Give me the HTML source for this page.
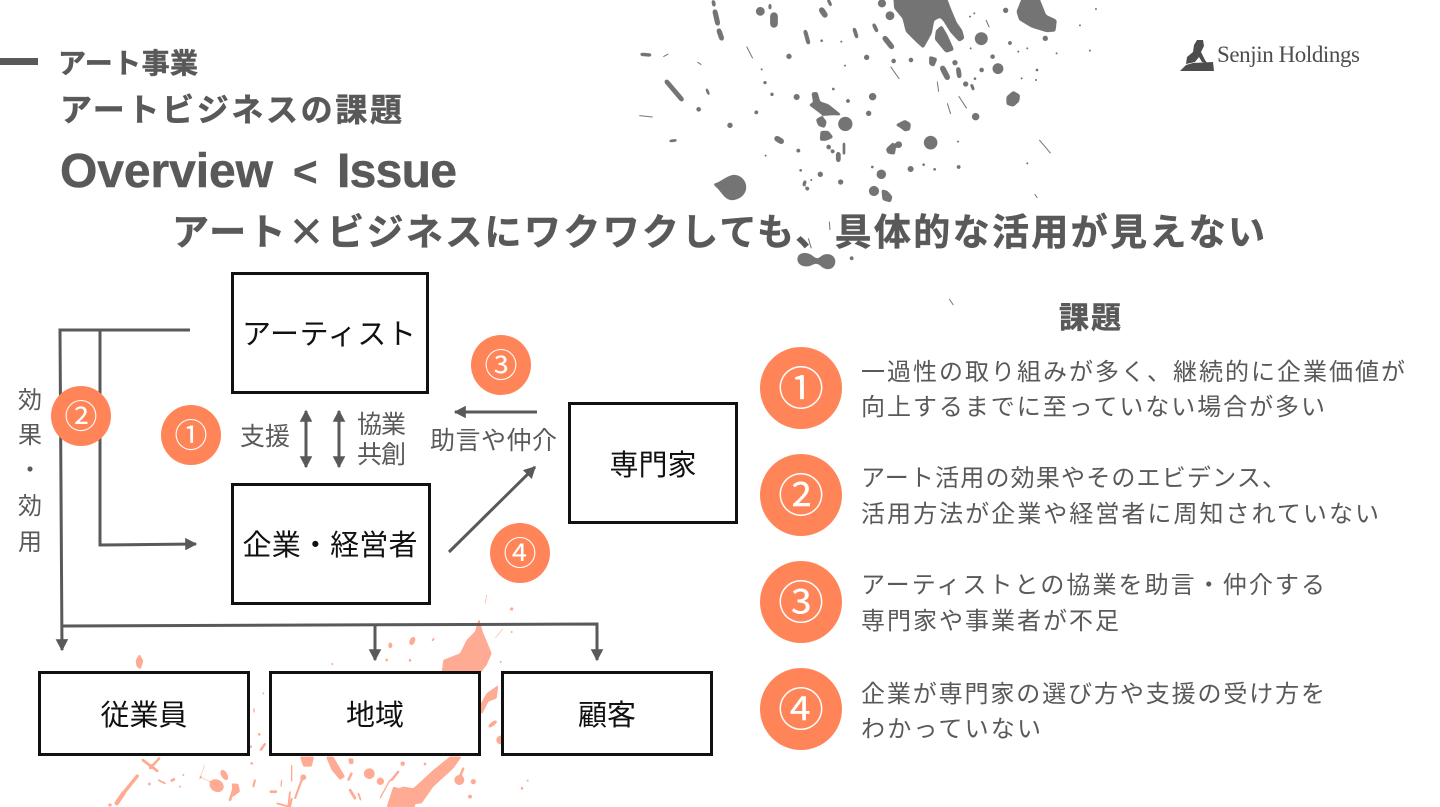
<!DOCTYPE html>
<html lang="ja"><head><meta charset="utf-8"><title>Overview &lt; Issue</title>
<style>
html,body{margin:0;padding:0;background:#fff}
svg{display:block;position:absolute;left:0;top:0}
text{font-family:"Liberation Sans","Noto Sans CJK JP",sans-serif}
</style></head><body>
<svg width="1440" height="807" viewBox="0 0 1440 807" xmlns="http://www.w3.org/2000/svg">
<defs>
<marker id="a" markerWidth="5" markerHeight="5" refX="3.6" refY="2.5" orient="auto-start-reverse" markerUnits="strokeWidth"><path d="M0 .4L4 2.5 0 4.6z" fill="#595959"/></marker>
<filter id="g" x="-5%" y="-5%" width="110%" height="110%" color-interpolation-filters="sRGB"><feGaussianBlur stdDeviation="2.2"/><feComponentTransfer><feFuncA type="linear" slope="5" intercept="-1.8"/></feComponentTransfer></filter>
<filter id="h" x="-5%" y="-5%" width="110%" height="110%" color-interpolation-filters="sRGB"><feGaussianBlur stdDeviation="3.5"/><feComponentTransfer><feFuncA type="linear" slope="5" intercept="-1.6"/></feComponentTransfer></filter>
</defs>
<rect width="1440" height="807" fill="#fff"/>

<!-- gray splatter -->
<g transform="translate(620 0) scale(.3333)" fill="#747474">
<g filter="url(#h)">
<g transform="translate(720 0)">
<path d="M100 -20H255L245 50 222 62 215 100 190 145 168 125 138 95 128 55 103 25z"/>
<path d="M228 92L245 76 262 105 282 150 258 158 225 118z"/>
<path d="M240 -20H255L272 25 290 68 306 90 313 115 298 125 272 97 250 62 232 45z"/>
<circle cx="66" cy="10" r="12"/><circle cx="90" cy="47" r="13"/>
</g>
<path d="M1212 -20H1252L1278 45 1310 60 1306 94 1280 96 1235 82 1198 60 1190 35z"/>
<path d="M278 552C300 550 315 530 340 525 365 525 380 545 378 565 375 590 350 600 335 600 310 598 305 570 278 552z"/>
<path d="M1160 290L1180 273 1200 285 1197 305 1180 320 1160 314z"/>
<path d="M575 278L592 276 600 305 625 313 650 333 666 346 640 345 610 347 590 332 566 314 580 308z"/>
<path d="M588 358L606 348 620 365 614 384 595 377zM602 393L625 393 640 412 618 422 600 422zM928 168L952 175 942 200 928 194zM826 375L855 360 872 370 870 390 855 394 840 382zM798 447L820 426 827 445 824 464 803 460z"/>
<path d="M533 775C535 755 565 755 580 770 590 778 595 778 605 768 625 755 650 768 645 790 640 812 615 812 600 795 590 788 585 790 575 795 555 805 530 795 533 775z"/>
<path d="M785 568L802 573 817 590 812 607 788 600z"/>
<g stroke="#747474" stroke-linecap="round" fill="none">
<path d="M280 5L282 15" stroke-width="10"/><path d="M285 35L293 70" stroke-width="14"/><path d="M297 92L305 115" stroke-width="14"/><path d="M462 48V72" stroke-width="22"/><path d="M605 30L615 45" stroke-width="16"/><path d="M556 95L565 128" stroke-width="11"/><path d="M703 88L710 110" stroke-width="10"/><path d="M762 75L770 92" stroke-width="10"/><path d="M795 115L815 140" stroke-width="15"/><path d="M968 205L982 232" stroke-width="16"/><path d="M1015 208L1018 228" stroke-width="13"/><path d="M140 245L185 298" stroke-width="13"/><path d="M65 163L90 165" stroke-width="9"/><path d="M150 423L168 421" stroke-width="7"/><path d="M655 462V480" stroke-width="13"/><path d="M471 416L484 424" stroke-width="16"/><path d="M1055 255L1060 268" stroke-width="8"/><path d="M450 15V25" stroke-width="8"/><path d="M625 0L632 15" stroke-width="8"/><path d="M260 268L266 282" stroke-width="7"/><path d="M555 545L552 555" stroke-width="9"/><path d="M672 430V462" stroke-width="7"/>
</g>
<circle cx="421" cy="34" r="13"/><circle cx="1084" cy="116" r="19"/><circle cx="1134" cy="206" r="16"/><circle cx="676" cy="372" r="21"/><circle cx="932" cy="428" r="20"/><circle cx="784" cy="523" r="14"/><circle cx="762" cy="573" r="15"/><circle cx="758" cy="290" r="11"/><circle cx="530" cy="291" r="9"/><circle cx="746" cy="340" r="8"/><circle cx="836" cy="434" r="10"/><circle cx="872" cy="507" r="9"/><circle cx="1067" cy="350" r="11"/><circle cx="330" cy="376" r="8"/><circle cx="601" cy="523" r="8"/><circle cx="662" cy="546" r="8"/><circle cx="507" cy="169" r="8"/><circle cx="740" cy="172" r="8"/><circle cx="1005" cy="188" r="8"/><circle cx="1037" cy="252" r="8"/><circle cx="1085" cy="210" r="7"/><circle cx="1118" cy="170" r="7"/><circle cx="1157" cy="31" r="8"/><circle cx="1276" cy="115" r="8"/><circle cx="821" cy="183" r="7"/><circle cx="873" cy="180" r="7"/><circle cx="236" cy="328" r="7"/><circle cx="409" cy="337" r="6"/><circle cx="684" cy="303" r="6"/><circle cx="535" cy="452" r="6"/><circle cx="626" cy="441" r="7"/><circle cx="638" cy="454" r="6"/><circle cx="1016" cy="501" r="6"/><circle cx="562" cy="566" r="6"/><circle cx="695" cy="775" r="6"/><circle cx="1170" cy="129" r="6"/>
</g>
<circle cx="944" cy="508" r="4"/><circle cx="911" cy="494" r="4"/><circle cx="757" cy="501" r="4"/><circle cx="542" cy="511" r="4"/><circle cx="574" cy="540" r="3"/><circle cx="456" cy="283" r="5"/><circle cx="435" cy="248" r="5"/><circle cx="425" cy="208" r="3"/><circle cx="1065" cy="236" r="4"/><circle cx="1251" cy="210" r="4"/><circle cx="1222" cy="490" r="3"/><circle cx="1014" cy="425" r="3"/><circle cx="437" cy="467" r="3"/><circle cx="640" cy="267" r="4"/><circle cx="605" cy="122" r="4"/><circle cx="664" cy="125" r="3"/><circle cx="675" cy="197" r="3"/><circle cx="1380" cy="76" r="3"/><circle cx="1410" cy="152" r="3"/><circle cx="1428" cy="27" r="3"/><circle cx="1195" cy="155" r="3"/><circle cx="1222" cy="145" r="3"/><circle cx="1310" cy="160" r="3"/><circle cx="1050" cy="50" r="3"/><circle cx="1063" cy="40" r="3"/><circle cx="1052" cy="145" r="3"/><circle cx="1205" cy="235" r="3"/><circle cx="1248" cy="240" r="3"/>
<g stroke="#747474" stroke-width="3" fill="none"><path d="M812 200L838 237M1016 288L1040 325M982 310L992 342M1258 420L1292 460M952 245L956 275M380 140L398 175M130 170L145 162M232 186L244 194M1098 60L1108 82M565 715L574 745M628 665L630 690M1244 582L1252 594M988 897L1000 915M58 347L98 351"/></g>
</g>

<!-- pink splatter -->
<g transform="translate(290 590) scale(.3333)" fill="#ffab93">
<g filter="url(#g)">
<path d="M567 85L578 125 605 190 590 225 570 250H455L460 210 510 190 530 150 555 125z"/>
<path d="M625 285L620 325 595 335 575 375 570 345 590 310z"/>
<ellipse cx="608" cy="402" rx="16" ry="6" transform="rotate(-38 608 402)"/><circle cx="632" cy="450" r="13"/>
<ellipse cx="367" cy="153" rx="8" ry="13" transform="rotate(25 367 153)"/><ellipse cx="301" cy="166" rx="6" ry="9"/>
<path d="M30 500H72L65 530 40 530zM108 500H130L165 560 150 570 125 540zM175 505H190L190 522 178 522zM480 500H515L490 535 430 590 395 640 300 651 315 600 340 590 370 595 430 540z"/>
<path d="M290 651L310 590 345 600 375 625 375 651z"/>
<circle cx="238" cy="551" r="16"/><circle cx="271" cy="574" r="11"/><circle cx="338" cy="521" r="7"/><circle cx="508" cy="570" r="15"/><circle cx="550" cy="575" r="8"/><circle cx="540" cy="620" r="6"/><circle cx="40" cy="562" r="9"/>
<g stroke="#ffab93" stroke-linecap="round" fill="none"><path d="M520 535L510 560" stroke-width="7"/><path d="M325 545L305 570" stroke-width="7"/><path d="M300 570L270 625" stroke-width="4"/><path d="M35 570L15 625" stroke-width="6"/><path d="M5 625L0 651" stroke-width="6"/><path d="M180 600L195 625" stroke-width="8"/><path d="M205 610L212 630" stroke-width="5"/><path d="M185 550L175 570" stroke-width="7"/><path d="M640 115L615 145" stroke-width="3"/><path d="M-40 640L0 651" stroke-width="5"/><path d="M432 145L427 152" stroke-width="5"/></g>
</g>
<circle cx="665" cy="57" r="5"/><circle cx="360" cy="211" r="4"/><circle cx="290" cy="210" r="4"/><circle cx="127" cy="222" r="3"/><circle cx="665" cy="126" r="3"/><circle cx="632" cy="216" r="3"/><circle cx="405" cy="522" r="4"/><circle cx="696" cy="595" r="4"/><circle cx="713" cy="572" r="3"/>
<path d="M590 15L586 40" stroke="#ffab93" stroke-width="2" fill="none"/>
</g>
<g transform="translate(100 640) scale(.3333)" fill="#ffab93">
<g filter="url(#g)">
<path d="M118 42L130 62 122 88 110 80 107 62z"/>
<g stroke="#ffab93" stroke-linecap="round" fill="none"><path d="M128 360L172 393" stroke-width="8"/><path d="M178 355L150 385" stroke-width="7"/><path d="M112 408L70 460" stroke-width="10"/><path d="M70 460L50 490" stroke-width="13"/><path d="M300 410L340 430" stroke-width="3"/><path d="M315 372L298 420" stroke-width="3"/><path d="M175 420L196 431" stroke-width="5"/><path d="M215 422L222 418" stroke-width="8"/><path d="M495 312L482 330" stroke-width="7"/><path d="M405 435L390 480" stroke-width="8"/><path d="M512 455H528" stroke-width="8"/><path d="M575 375V425" stroke-width="4"/><path d="M570 455L565 500" stroke-width="5"/><path d="M462 205V218" stroke-width="4"/><path d="M465 420L460 440" stroke-width="6"/><path d="M545 420L543 440" stroke-width="4"/></g>
<ellipse cx="350" cy="437" rx="22" ry="18" transform="rotate(30 350 437)"/>
<ellipse cx="373" cy="405" rx="9" ry="17" transform="rotate(-30 373 405)"/>
<path d="M395 430L415 432 420 455 400 470z"/>
</g>
<circle cx="490" cy="160" r="3"/><circle cx="148" cy="432" r="4"/><circle cx="455" cy="370" r="4"/><circle cx="478" cy="283" r="4"/><circle cx="452" cy="320" r="4"/><circle cx="250" cy="405" r="3"/><circle cx="240" cy="440" r="3"/><circle cx="30" cy="495" r="5"/>
</g>

<!-- header -->
<rect x="0" y="58" width="38" height="7" fill="#595959"/>
<g fill="#595959" font-weight="700" stroke="#595959" stroke-width=".5">
<text x="58" y="73" font-size="28" textLength="140" lengthAdjust="spacing">アート事業</text>
<text x="60" y="121" font-size="32" textLength="342" lengthAdjust="spacing">アートビジネスの課題</text>
<text x="60" y="187" font-size="48" textLength="213" lengthAdjust="spacing">Overview</text>
<text x="293" y="186" font-size="42">&lt;</text>
<text x="337" y="187" font-size="48" textLength="120" lengthAdjust="spacing">Issue</text>
<text x="172" y="245" font-size="37" textLength="1093" lengthAdjust="spacing">アート<tspan style="font-family:'Noto Sans CJK JP',sans-serif">×</tspan>ビジネスにワクワクしても、具体的な活用が見えない</text>
<text x="1059" y="328" font-size="30" textLength="62" lengthAdjust="spacing">課題</text>
</g>

<!-- logo -->
<g fill="#4d4d4d">
<path d="M1180 71L1186 65 1193 63 1213 62 1214 71z"/>
<path d="M1186 64L1187 57 1193 52 1194 45 1197 40 1203 40 1204 46 1201 52 1205 60 1207 63 1202 62 1199 57 1195 62z"/>
<text x="1217" y="62" font-size="23" textLength="143" lengthAdjust="spacing" style="font-family:'Liberation Serif',serif">Senjin Holdings</text>
</g>

<!-- boxes -->
<g fill="#fff" stroke="#111" stroke-width="3">
<rect x="232.500" y="273.500" width="195" height="119"/>
<rect x="232.500" y="484.500" width="197" height="119"/>
<rect x="569.500" y="403.500" width="167" height="119"/>
<rect x="39.500" y="672.500" width="209" height="82"/>
<rect x="270.500" y="672.500" width="209" height="82"/>
<rect x="502.500" y="672.500" width="209" height="82"/>
</g>
<g fill="#111" font-size="29" text-anchor="middle">
<text x="329" y="344" textLength="174" lengthAdjust="spacing">アーティスト</text>
<text x="330" y="555" textLength="175" lengthAdjust="spacing">企業・経営者</text>
<text x="653" y="475">専門家</text>
<text x="144" y="725">従業員</text>
<text x="375" y="725">地域</text>
<text x="607" y="725">顧客</text>
</g>

<!-- connectors -->
<g fill="none" stroke="#595959" stroke-width="3">
<path d="M190 330H60L62 650" marker-end="url(#a)"/>
<path d="M100 330V545L196 544" marker-end="url(#a)"/>
<path d="M63 626L597 624V660" marker-end="url(#a)"/>
<path d="M375 625V660" marker-end="url(#a)"/>
<path d="M449 552L535 467" marker-end="url(#a)"/>
<path d="M537 412H455" marker-end="url(#a)"/>
<path d="M306 411V467" marker-start="url(#a)" marker-end="url(#a)"/>
<path d="M339 411V467" marker-start="url(#a)" marker-end="url(#a)"/>
</g>

<!-- small labels -->
<g fill="#595959" font-size="25">
<text x="240" y="445" textLength="50" lengthAdjust="spacing">支援</text>
<text x="357" y="433" textLength="49" lengthAdjust="spacing">協業</text>
<text x="357" y="463" textLength="49" lengthAdjust="spacing">共創</text>
<text x="430" y="449" textLength="127" lengthAdjust="spacing">助言や仲介</text>
<g text-anchor="middle" font-size="24"><text x="30" y="408">効</text><text x="30" y="443">果</text><text x="30" y="478">・</text><text x="30" y="514">効</text><text x="30" y="550">用</text></g>
</g>

<!-- badges -->
<g fill="#ff8559">
<ellipse cx="191" cy="435" rx="30" ry="30"/><ellipse cx="81" cy="416" rx="30" ry="30"/><ellipse cx="501" cy="365" rx="30" ry="30"/><ellipse cx="520" cy="553" rx="30" ry="30"/>
<circle cx="801" cy="388" r="41"/><circle cx="801" cy="495" r="41"/><circle cx="801" cy="602" r="41"/><circle cx="801" cy="709" r="41"/>
</g>
<g fill="#fff" text-anchor="middle" font-size="33">
<text x="191" y="447">①</text><text x="81" y="428">②</text><text x="501" y="377">③</text><text x="520" y="565">④</text>
</g>
<g fill="#fff" text-anchor="middle" font-size="46">
<text x="801" y="405">①</text><text x="801" y="512">②</text><text x="801" y="619">③</text><text x="801" y="726">④</text>
</g>

<!-- issue list -->
<g fill="#595959" font-size="24">
<text x="861" y="380" textLength="544" lengthAdjust="spacing">一過性の取り組みが多く、継続的に企業価値が</text>
<text x="861" y="415" textLength="464" lengthAdjust="spacing">向上するまでに至っていない場合が多い</text>
<text x="861" y="486" textLength="425" lengthAdjust="spacing">アート活用の効果やそのエビデンス、</text>
<text x="861" y="522" textLength="518" lengthAdjust="spacing">活用方法が企業や経営者に周知されていない</text>
<text x="861" y="593" textLength="464" lengthAdjust="spacing">アーティストとの協業を助言・仲介する</text>
<text x="861" y="629" textLength="258" lengthAdjust="spacing">専門家や事業者が不足</text>
<text x="861" y="702" textLength="464" lengthAdjust="spacing">企業が専門家の選び方や支援の受け方を</text>
<text x="861" y="737" textLength="180" lengthAdjust="spacing">わかっていない</text>
</g>
</svg>
</body></html>
